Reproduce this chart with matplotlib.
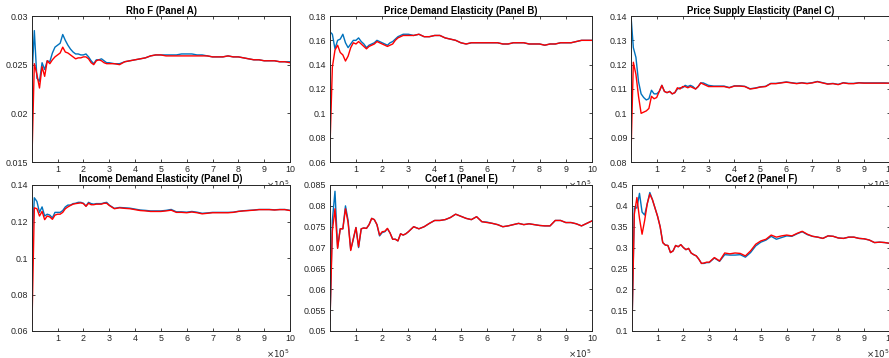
import numpy as np
import matplotlib
matplotlib.use("Agg")
from matplotlib import pyplot as plt
from matplotlib.ticker import FuncFormatter

# sample positions, in units of 1e5
x_vals = [0.01, 0.1, 0.2, 0.3, 0.4, 0.5, 0.6, 0.7, 0.8, 0.9, 1.0,
          1.1, 1.2, 1.3, 1.4, 1.5, 1.6, 1.7, 1.8, 1.9, 2.0,
          2.1, 2.2, 2.3, 2.4, 2.5, 2.6, 2.7, 2.8, 2.9, 3.0,
          3.2, 3.4, 3.6, 3.8, 4.0, 4.2, 4.4, 4.6, 4.8, 5.0,
          5.2, 5.4, 5.6, 5.8, 6.0, 6.2, 6.4, 6.6, 6.8, 7.0,
          7.2, 7.4, 7.6, 7.8, 8.0, 8.2, 8.4, 8.6, 8.8, 9.0,
          9.2, 9.4, 9.6, 9.8, 10.0]

titles = ["Rho F (Panel A)", "Price Demand Elasticity (Panel B)",
          "Price Supply Elasticity (Panel C)", "Income Demand Elasticity (Panel D)",
          "Coef 1 (Panel E)", "Coef 2 (Panel F)"]

# Panel A
rho_blue = [0.0238, 0.0285, 0.0236, 0.0233, 0.0252, 0.0245, 0.0254, 0.0253, 0.0262, 0.0268, 0.0270,
            0.0272, 0.0281, 0.0275, 0.0270, 0.0266, 0.0263, 0.0261, 0.0261, 0.0260, 0.0260,
            0.0261, 0.0258, 0.0254, 0.0251, 0.0255, 0.0255, 0.0256, 0.0254, 0.0252, 0.0252,
            0.0251, 0.0251, 0.0253, 0.0254, 0.0255, 0.0256, 0.0257, 0.0259, 0.0260, 0.0260,
            0.0260, 0.0260, 0.0260, 0.0261, 0.0261, 0.0261, 0.0260, 0.0260, 0.0259, 0.0258,
            0.0258, 0.0258, 0.0259, 0.0258, 0.0258, 0.0257, 0.0256, 0.0255, 0.0255, 0.0254,
            0.0254, 0.0254, 0.0253, 0.0253, 0.0253]
rho_red = [0.0155, 0.0251, 0.0240, 0.0226, 0.0248, 0.0238, 0.0254, 0.0251, 0.0255, 0.0258, 0.0260,
           0.0262, 0.0268, 0.0263, 0.0262, 0.0260, 0.0258, 0.0256, 0.0257, 0.0257, 0.0258,
           0.0258, 0.0256, 0.0252, 0.0250, 0.0254, 0.0255, 0.0254, 0.0252, 0.0251, 0.0251,
           0.0251, 0.0250, 0.0253, 0.0254, 0.0255, 0.0256, 0.0257, 0.0259, 0.0260, 0.0260,
           0.0259, 0.0259, 0.0259, 0.0259, 0.0259, 0.0259, 0.0259, 0.0259, 0.0259, 0.0258,
           0.0258, 0.0258, 0.0259, 0.0258, 0.0258, 0.0257, 0.0256, 0.0255, 0.0255, 0.0254,
           0.0254, 0.0254, 0.0253, 0.0253, 0.0252]

# Panel B
pde_blue = [0.167, 0.165, 0.153, 0.160, 0.161, 0.165, 0.158, 0.154, 0.157, 0.160, 0.160,
            0.162, 0.159, 0.157, 0.154, 0.156, 0.157, 0.158, 0.160, 0.159, 0.158,
            0.157, 0.156, 0.158, 0.159, 0.161, 0.163, 0.164, 0.165, 0.165, 0.165,
            0.164, 0.165, 0.163, 0.163, 0.164, 0.164, 0.162, 0.161, 0.160, 0.158,
            0.157, 0.158, 0.158, 0.158, 0.158, 0.158, 0.158, 0.157, 0.157, 0.158,
            0.158, 0.158, 0.157, 0.157, 0.157, 0.156, 0.157, 0.157, 0.158, 0.158,
            0.158, 0.159, 0.160, 0.160, 0.160]
pde_red = [0.073, 0.138, 0.152, 0.156, 0.150, 0.148, 0.143, 0.147, 0.154, 0.158, 0.157,
           0.159, 0.157, 0.155, 0.153, 0.155, 0.156, 0.157, 0.159, 0.158, 0.157,
           0.156, 0.155, 0.156, 0.157, 0.160, 0.162, 0.163, 0.164, 0.164, 0.164,
           0.164, 0.165, 0.163, 0.163, 0.164, 0.164, 0.162, 0.161, 0.160, 0.158,
           0.157, 0.158, 0.158, 0.158, 0.158, 0.158, 0.158, 0.157, 0.157, 0.158,
           0.158, 0.158, 0.157, 0.157, 0.157, 0.156, 0.157, 0.157, 0.158, 0.158,
           0.158, 0.159, 0.160, 0.160, 0.160]

# Panel C
pse_blue = [0.140, 0.127, 0.123, 0.113, 0.108, 0.1065, 0.1055, 0.106, 0.1095, 0.108, 0.108,
            0.109, 0.1115, 0.109, 0.1085, 0.109, 0.108, 0.1085, 0.110, 0.1105, 0.1105,
            0.1115, 0.111, 0.1115, 0.111, 0.110, 0.111, 0.1125, 0.1125, 0.112, 0.1115,
            0.1112, 0.1112, 0.1112, 0.1106, 0.1113, 0.1113, 0.1111, 0.1101, 0.1104, 0.1109,
            0.1111, 0.1123, 0.1123, 0.1126, 0.1129, 0.1126, 0.1123, 0.1126, 0.1123, 0.1126,
            0.1131, 0.1126, 0.1121, 0.1123, 0.1119, 0.1126, 0.1123, 0.1123, 0.1126, 0.1125,
            0.1125, 0.1125, 0.1125, 0.1125, 0.1124]
pse_red = [0.083, 0.121, 0.116, 0.107, 0.100, 0.1005, 0.101, 0.102, 0.107, 0.106, 0.1065,
           0.109, 0.1115, 0.109, 0.1085, 0.109, 0.108, 0.1085, 0.1105, 0.110, 0.111,
           0.111, 0.1105, 0.111, 0.1105, 0.110, 0.111, 0.1125, 0.112, 0.1115, 0.111,
           0.111, 0.111, 0.111, 0.1105, 0.1112, 0.1112, 0.111, 0.110, 0.1103, 0.1108,
           0.111, 0.1122, 0.1122, 0.1125, 0.1128, 0.1125, 0.1122, 0.1125, 0.1122, 0.1125,
           0.1130, 0.1125, 0.112, 0.1122, 0.1118, 0.1125, 0.1122, 0.1122, 0.1125, 0.1124,
           0.1124, 0.1124, 0.1124, 0.1124, 0.1124]

# Panel D
ide_blue = [0.106, 0.1330, 0.131, 0.125, 0.128, 0.123, 0.124, 0.1235, 0.122, 0.125, 0.125,
            0.125, 0.126, 0.128, 0.129, 0.129, 0.1298, 0.130, 0.1305, 0.1305, 0.130,
            0.1285, 0.1305, 0.1298, 0.1295, 0.1298, 0.1298, 0.1298, 0.1302, 0.1305, 0.129,
            0.1272, 0.1277, 0.1275, 0.1273, 0.1268, 0.1263, 0.1261, 0.1258, 0.1258, 0.1258,
            0.1261, 0.1266, 0.1253, 0.1253, 0.1251, 0.1255, 0.1251, 0.1245, 0.1247, 0.1250,
            0.1250, 0.1250, 0.1250, 0.1251, 0.1256, 0.1259, 0.1261, 0.1263, 0.1266, 0.1266,
            0.1266, 0.1264, 0.1266, 0.1266, 0.1261]
ide_red = [0.064, 0.1275, 0.127, 0.123, 0.1255, 0.121, 0.123, 0.1225, 0.1212, 0.1235, 0.124,
           0.124, 0.125, 0.127, 0.128, 0.1288, 0.1295, 0.1298, 0.130, 0.1302, 0.1298,
           0.1283, 0.130, 0.1292, 0.1292, 0.1295, 0.1295, 0.1295, 0.130, 0.130, 0.1288,
           0.127, 0.1275, 0.1272, 0.127, 0.1265, 0.126, 0.1258, 0.1255, 0.1255, 0.1255,
           0.1258, 0.1262, 0.125, 0.125, 0.1248, 0.1252, 0.1248, 0.1242, 0.1245, 0.1248,
           0.1248, 0.1248, 0.1248, 0.125, 0.1255, 0.1258, 0.126, 0.1262, 0.1265, 0.1265,
           0.1265, 0.1263, 0.1265, 0.1265, 0.126]

# Panel E
coef1_blue = [0.0525, 0.0765, 0.0835, 0.0700, 0.0745, 0.0745, 0.0800, 0.0765, 0.0695, 0.0720, 0.0748,
              0.0700, 0.0745, 0.0747, 0.0746, 0.0755, 0.0770, 0.0767, 0.0755, 0.0728, 0.0736,
              0.0738, 0.0745, 0.0735, 0.0720, 0.0720, 0.0716, 0.0733, 0.0730, 0.0733, 0.0738,
              0.0750, 0.0745, 0.0750, 0.0758, 0.0765, 0.0765, 0.0767, 0.0772, 0.0780, 0.0775,
              0.0770, 0.0767, 0.0774, 0.0762, 0.0761, 0.0758, 0.0755, 0.0750, 0.0752, 0.0755,
              0.0758, 0.0755, 0.0757, 0.0755, 0.0753, 0.0752, 0.0752, 0.0765, 0.0765, 0.0760,
              0.0760, 0.0757, 0.0752, 0.0758, 0.0764]
coef1_red = [0.0525, 0.0740, 0.0793, 0.0698, 0.0745, 0.0745, 0.0793, 0.0760, 0.0693, 0.0722, 0.0748,
             0.0702, 0.0745, 0.0747, 0.0746, 0.0755, 0.0770, 0.0767, 0.0755, 0.0730, 0.0738,
             0.0739, 0.0746, 0.0735, 0.0720, 0.0720, 0.0716, 0.0733, 0.0730, 0.0733, 0.0738,
             0.0750, 0.0745, 0.0750, 0.0758, 0.0765, 0.0765, 0.0767, 0.0772, 0.0780, 0.0775,
             0.0770, 0.0767, 0.0774, 0.0762, 0.0760, 0.0758, 0.0755, 0.0750, 0.0752, 0.0755,
             0.0758, 0.0755, 0.0757, 0.0755, 0.0753, 0.0752, 0.0752, 0.0765, 0.0765, 0.0760,
             0.0760, 0.0757, 0.0752, 0.0758, 0.0764]

# Panel F
coef2_blue = [0.110, 0.395, 0.395, 0.430, 0.385, 0.378, 0.405, 0.432, 0.415, 0.395, 0.375,
              0.350, 0.312, 0.306, 0.305, 0.288, 0.292, 0.305, 0.302, 0.307, 0.300,
              0.295, 0.298, 0.287, 0.283, 0.280, 0.272, 0.262, 0.262, 0.264, 0.264,
              0.275, 0.267, 0.283, 0.282, 0.282, 0.283, 0.277, 0.288, 0.304, 0.313,
              0.318, 0.327, 0.320, 0.324, 0.328, 0.327, 0.333, 0.338, 0.331, 0.327,
              0.325, 0.322, 0.328, 0.327, 0.323, 0.322, 0.325, 0.325, 0.322, 0.321,
              0.318, 0.312, 0.313, 0.312, 0.310]
coef2_red = [0.110, 0.380, 0.420, 0.370, 0.332, 0.365, 0.405, 0.428, 0.415, 0.395, 0.375,
             0.350, 0.312, 0.306, 0.305, 0.288, 0.292, 0.305, 0.302, 0.307, 0.300,
             0.295, 0.298, 0.287, 0.283, 0.280, 0.272, 0.262, 0.263, 0.265, 0.265,
             0.276, 0.268, 0.287, 0.285, 0.287, 0.286, 0.280, 0.292, 0.308, 0.316,
             0.320, 0.330, 0.325, 0.328, 0.330, 0.328, 0.334, 0.339, 0.332, 0.327,
             0.325, 0.322, 0.328, 0.327, 0.323, 0.322, 0.325, 0.325, 0.322, 0.321,
             0.318, 0.312, 0.313, 0.312, 0.310]

blue_series = [rho_blue, pde_blue, pse_blue, ide_blue, coef1_blue, coef2_blue]
red_series = [rho_red, pde_red, pse_red, ide_red, coef1_red, coef2_red]
y_ticks = [[0.015, 0.02, 0.025, 0.03],
           [0.06, 0.08, 0.1, 0.12, 0.14, 0.16, 0.18],
           [0.08, 0.09, 0.1, 0.11, 0.12, 0.13, 0.14],
           [0.06, 0.08, 0.1, 0.12, 0.14],
           [0.05, 0.055, 0.06, 0.065, 0.07, 0.075, 0.08, 0.085],
           [0.1, 0.15, 0.2, 0.25, 0.3, 0.35, 0.4, 0.45]]
x_ticks = [1, 2, 3, 4, 5, 6, 7, 8, 9, 10]

plt.rcParams["font.family"] = ["Liberation Sans", "DejaVu Sans"]
grey = "#262626"

fig = plt.figure(figsize=(8.89, 3.58), dpi=100)
W, H = 889.0, 358.0
# axes boxes in pixels: left, top, right, bottom
boxes = [(32, 16, 290, 162), (330, 16, 592, 162), (631, 16, 890, 162),
         (32, 185, 290, 331), (330, 185, 592, 331), (632, 185, 890, 331)]

x = np.array(x_vals)
for i in range(6):
    l, t, r, b = boxes[i]
    ax = fig.add_axes([l / W, 1 - b / H, (r - l) / W, (b - t) / H])
    ax.plot(x, blue_series[i], color="#0072BD", lw=1.0)
    ax.plot(x, red_series[i], color="#FF0000", lw=1.0)
    ax.set_xlim(x[0], x[-1])
    ax.set_ylim(y_ticks[i][0], y_ticks[i][-1])
    ax.set_yticks(y_ticks[i])
    ax.yaxis.set_major_formatter(FuncFormatter(lambda v, p: f"{v:g}"))
    ax.set_xticks(x_ticks)
    ax.set_xticklabels([str(k) for k in x_ticks])
    ax.tick_params(direction="in", top=True, right=True, length=2.2, width=0.6,
                   labelsize=6.4, colors=grey, pad=2.5)
    for s in ax.spines.values():
        s.set_color(grey)
        s.set_linewidth(0.7)
    ax.set_title(titles[i], fontsize=6.9, fontweight="bold", color="black", pad=1.8)
    ax.text(1.0, -0.155, r"$\times10^5$", transform=ax.transAxes, ha="right", va="center",
            fontsize=6.2, color=grey)

fig.savefig("out.png", dpi=100)
